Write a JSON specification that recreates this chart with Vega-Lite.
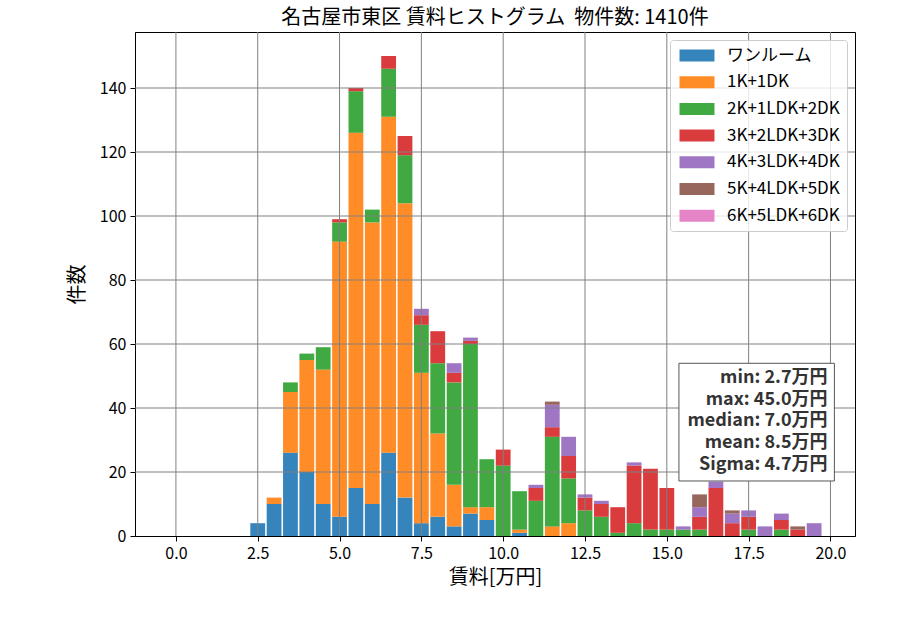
{
  "$schema": "https://vega.github.io/schema/vega-lite/v6.json",
  "width": 720,
  "height": 504,
  "autosize": {"type": "none"},
  "padding": {"left": 135, "top": 32, "right": 45, "bottom": 94},
  "background": "white",
  "title": {"text": "名古屋市東区 賃料ヒストグラム \u00a0物件数: 1410件", "fontSize": 20, "fontWeight": "normal", "color": "black", "offset": 4, "anchor": "middle"},
  "config": {
    "font": "Noto Sans CJK JP",
    "view": {"stroke": "black", "strokeWidth": 1},
    "axis": {"labelFontSize": 16, "labelColor": "black", "tickColor": "black", "domainColor": "black", "tickSize": 5, "titleFontSize": 20, "titleFontWeight": "normal", "titleColor": "black", "grid": false, "labelPadding": 4}
  },
  "layer": [
    {
      "data": {"values": [
        {"x": 2.5, "t": "ワンルーム", "k": 0, "n": 4},
        {"x": 3.0, "t": "ワンルーム", "k": 0, "n": 10}, {"x": 3.0, "t": "1K+1DK", "k": 1, "n": 2},
        {"x": 3.5, "t": "ワンルーム", "k": 0, "n": 26}, {"x": 3.5, "t": "1K+1DK", "k": 1, "n": 19}, {"x": 3.5, "t": "2K+1LDK+2DK", "k": 2, "n": 3},
        {"x": 4.0, "t": "ワンルーム", "k": 0, "n": 20}, {"x": 4.0, "t": "1K+1DK", "k": 1, "n": 35}, {"x": 4.0, "t": "2K+1LDK+2DK", "k": 2, "n": 2},
        {"x": 4.5, "t": "ワンルーム", "k": 0, "n": 10}, {"x": 4.5, "t": "1K+1DK", "k": 1, "n": 42}, {"x": 4.5, "t": "2K+1LDK+2DK", "k": 2, "n": 7},
        {"x": 5.0, "t": "ワンルーム", "k": 0, "n": 6}, {"x": 5.0, "t": "1K+1DK", "k": 1, "n": 86}, {"x": 5.0, "t": "2K+1LDK+2DK", "k": 2, "n": 6}, {"x": 5.0, "t": "3K+2LDK+3DK", "k": 3, "n": 1},
        {"x": 5.5, "t": "ワンルーム", "k": 0, "n": 15}, {"x": 5.5, "t": "1K+1DK", "k": 1, "n": 111}, {"x": 5.5, "t": "2K+1LDK+2DK", "k": 2, "n": 13}, {"x": 5.5, "t": "3K+2LDK+3DK", "k": 3, "n": 1},
        {"x": 6.0, "t": "ワンルーム", "k": 0, "n": 10}, {"x": 6.0, "t": "1K+1DK", "k": 1, "n": 88}, {"x": 6.0, "t": "2K+1LDK+2DK", "k": 2, "n": 4},
        {"x": 6.5, "t": "ワンルーム", "k": 0, "n": 26}, {"x": 6.5, "t": "1K+1DK", "k": 1, "n": 105}, {"x": 6.5, "t": "2K+1LDK+2DK", "k": 2, "n": 15}, {"x": 6.5, "t": "3K+2LDK+3DK", "k": 3, "n": 4},
        {"x": 7.0, "t": "ワンルーム", "k": 0, "n": 12}, {"x": 7.0, "t": "1K+1DK", "k": 1, "n": 92}, {"x": 7.0, "t": "2K+1LDK+2DK", "k": 2, "n": 15}, {"x": 7.0, "t": "3K+2LDK+3DK", "k": 3, "n": 6},
        {"x": 7.5, "t": "ワンルーム", "k": 0, "n": 4}, {"x": 7.5, "t": "1K+1DK", "k": 1, "n": 47}, {"x": 7.5, "t": "2K+1LDK+2DK", "k": 2, "n": 15}, {"x": 7.5, "t": "3K+2LDK+3DK", "k": 3, "n": 3}, {"x": 7.5, "t": "4K+3LDK+4DK", "k": 4, "n": 2},
        {"x": 8.0, "t": "ワンルーム", "k": 0, "n": 6}, {"x": 8.0, "t": "1K+1DK", "k": 1, "n": 26}, {"x": 8.0, "t": "2K+1LDK+2DK", "k": 2, "n": 22}, {"x": 8.0, "t": "3K+2LDK+3DK", "k": 3, "n": 10},
        {"x": 8.5, "t": "ワンルーム", "k": 0, "n": 3}, {"x": 8.5, "t": "1K+1DK", "k": 1, "n": 13}, {"x": 8.5, "t": "2K+1LDK+2DK", "k": 2, "n": 32}, {"x": 8.5, "t": "3K+2LDK+3DK", "k": 3, "n": 3}, {"x": 8.5, "t": "4K+3LDK+4DK", "k": 4, "n": 3},
        {"x": 9.0, "t": "ワンルーム", "k": 0, "n": 7}, {"x": 9.0, "t": "1K+1DK", "k": 1, "n": 2}, {"x": 9.0, "t": "2K+1LDK+2DK", "k": 2, "n": 51}, {"x": 9.0, "t": "3K+2LDK+3DK", "k": 3, "n": 1}, {"x": 9.0, "t": "4K+3LDK+4DK", "k": 4, "n": 1},
        {"x": 9.5, "t": "ワンルーム", "k": 0, "n": 5}, {"x": 9.5, "t": "1K+1DK", "k": 1, "n": 4}, {"x": 9.5, "t": "2K+1LDK+2DK", "k": 2, "n": 15},
        {"x": 10.0, "t": "2K+1LDK+2DK", "k": 2, "n": 22}, {"x": 10.0, "t": "3K+2LDK+3DK", "k": 3, "n": 5},
        {"x": 10.5, "t": "ワンルーム", "k": 0, "n": 1}, {"x": 10.5, "t": "1K+1DK", "k": 1, "n": 1}, {"x": 10.5, "t": "2K+1LDK+2DK", "k": 2, "n": 12},
        {"x": 11.0, "t": "2K+1LDK+2DK", "k": 2, "n": 11}, {"x": 11.0, "t": "3K+2LDK+3DK", "k": 3, "n": 4}, {"x": 11.0, "t": "4K+3LDK+4DK", "k": 4, "n": 1},
        {"x": 11.5, "t": "1K+1DK", "k": 1, "n": 3}, {"x": 11.5, "t": "2K+1LDK+2DK", "k": 2, "n": 28}, {"x": 11.5, "t": "3K+2LDK+3DK", "k": 3, "n": 3}, {"x": 11.5, "t": "4K+3LDK+4DK", "k": 4, "n": 7}, {"x": 11.5, "t": "5K+4LDK+5DK", "k": 5, "n": 1},
        {"x": 12.0, "t": "1K+1DK", "k": 1, "n": 4}, {"x": 12.0, "t": "2K+1LDK+2DK", "k": 2, "n": 14}, {"x": 12.0, "t": "3K+2LDK+3DK", "k": 3, "n": 7}, {"x": 12.0, "t": "4K+3LDK+4DK", "k": 4, "n": 6},
        {"x": 12.5, "t": "2K+1LDK+2DK", "k": 2, "n": 8}, {"x": 12.5, "t": "3K+2LDK+3DK", "k": 3, "n": 4}, {"x": 12.5, "t": "4K+3LDK+4DK", "k": 4, "n": 1},
        {"x": 13.0, "t": "2K+1LDK+2DK", "k": 2, "n": 6}, {"x": 13.0, "t": "3K+2LDK+3DK", "k": 3, "n": 4}, {"x": 13.0, "t": "4K+3LDK+4DK", "k": 4, "n": 1},
        {"x": 13.5, "t": "2K+1LDK+2DK", "k": 2, "n": 1}, {"x": 13.5, "t": "3K+2LDK+3DK", "k": 3, "n": 8},
        {"x": 14.0, "t": "2K+1LDK+2DK", "k": 2, "n": 4}, {"x": 14.0, "t": "3K+2LDK+3DK", "k": 3, "n": 18}, {"x": 14.0, "t": "4K+3LDK+4DK", "k": 4, "n": 1},
        {"x": 14.5, "t": "2K+1LDK+2DK", "k": 2, "n": 2}, {"x": 14.5, "t": "3K+2LDK+3DK", "k": 3, "n": 19},
        {"x": 15.0, "t": "2K+1LDK+2DK", "k": 2, "n": 2}, {"x": 15.0, "t": "3K+2LDK+3DK", "k": 3, "n": 13},
        {"x": 15.5, "t": "2K+1LDK+2DK", "k": 2, "n": 2}, {"x": 15.5, "t": "4K+3LDK+4DK", "k": 4, "n": 1},
        {"x": 16.0, "t": "2K+1LDK+2DK", "k": 2, "n": 2}, {"x": 16.0, "t": "3K+2LDK+3DK", "k": 3, "n": 4}, {"x": 16.0, "t": "4K+3LDK+4DK", "k": 4, "n": 3}, {"x": 16.0, "t": "5K+4LDK+5DK", "k": 5, "n": 4},
        {"x": 16.5, "t": "3K+2LDK+3DK", "k": 3, "n": 15}, {"x": 16.5, "t": "4K+3LDK+4DK", "k": 4, "n": 2},
        {"x": 17.0, "t": "3K+2LDK+3DK", "k": 3, "n": 4}, {"x": 17.0, "t": "4K+3LDK+4DK", "k": 4, "n": 3}, {"x": 17.0, "t": "5K+4LDK+5DK", "k": 5, "n": 1},
        {"x": 17.5, "t": "2K+1LDK+2DK", "k": 2, "n": 2}, {"x": 17.5, "t": "3K+2LDK+3DK", "k": 3, "n": 4}, {"x": 17.5, "t": "4K+3LDK+4DK", "k": 4, "n": 2},
        {"x": 18.0, "t": "4K+3LDK+4DK", "k": 4, "n": 3},
        {"x": 18.5, "t": "2K+1LDK+2DK", "k": 2, "n": 2}, {"x": 18.5, "t": "3K+2LDK+3DK", "k": 3, "n": 3}, {"x": 18.5, "t": "4K+3LDK+4DK", "k": 4, "n": 2},
        {"x": 19.0, "t": "3K+2LDK+3DK", "k": 3, "n": 2}, {"x": 19.0, "t": "5K+4LDK+5DK", "k": 5, "n": 1},
        {"x": 19.5, "t": "4K+3LDK+4DK", "k": 4, "n": 4}
      ]},
      "mark": {"type": "bar", "orient": "vertical", "size": 14.8, "opacity": 0.9},
      "encoding": {
        "x": {"field": "x", "type": "quantitative", "title": "賃料[万円]",
              "scale": {"domain": [-1.25, 20.75], "nice": false, "zero": false, "padding": 0},
              "axis": {"values": [0, 2.5, 5, 7.5, 10, 12.5, 15, 17.5, 20], "format": ".1f", "titlePadding": 6}},
        "y": {"field": "n", "type": "quantitative", "stack": "zero", "title": "件数",
              "scale": {"domain": [0, 157.5], "nice": false, "padding": 0},
              "axis": {"values": [0, 20, 40, 60, 80, 100, 120, 140], "format": "d", "titlePadding": 12}},
        "color": {"field": "t", "type": "nominal",
                  "scale": {"domain": ["ワンルーム", "1K+1DK", "2K+1LDK+2DK", "3K+2LDK+3DK", "4K+3LDK+4DK", "5K+4LDK+5DK", "6K+5LDK+6DK"],
                            "range": ["#1f77b4", "#ff7f0e", "#2ca02c", "#d62728", "#9467bd", "#8c564b", "#e377c2"]},
                  "legend": {"title": null, "orient": "top-right", "offset": 8, "symbolType": "M-1,-1H4.83V1H-1Z", "symbolSize": 144,
                             "symbolStrokeWidth": 0, "symbolOpacity": 0.9, "labelFontSize": 17, "labelColor": "black", "labelOffset": 33,
                             "fillColor": "rgba(255,255,255,0.8)", "strokeColor": "#cccccc", "cornerRadius": 3, "padding": 7, "rowPadding": 8.7}},
        "order": {"field": "k", "type": "quantitative", "sort": "ascending"}
      }
    },
    {
      "data": {"values": [{"x": 0}, {"x": 2.5}, {"x": 5}, {"x": 7.5}, {"x": 10}, {"x": 12.5}, {"x": 15}, {"x": 17.5}, {"x": 20}]},
      "mark": {"type": "rule", "color": "#808080", "strokeWidth": 1},
      "encoding": {"x": {"field": "x", "type": "quantitative", "title": "賃料[万円]"}}
    },
    {
      "data": {"values": [{"n": 20}, {"n": 40}, {"n": 60}, {"n": 80}, {"n": 100}, {"n": 120}, {"n": 140}]},
      "mark": {"type": "rule", "color": "#808080", "strokeWidth": 1},
      "encoding": {"y": {"field": "n", "type": "quantitative", "title": "件数"}}
    },
    {
      "data": {"values": [{"x": 15.37, "xe": 20.12, "n": 53.97, "ne": 17.19}]},
      "mark": {"type": "rect", "fill": "white", "stroke": "#555555", "strokeWidth": 1},
      "encoding": {
        "x": {"field": "x", "type": "quantitative", "title": "賃料[万円]"},
        "x2": {"field": "xe"},
        "y": {"field": "n", "type": "quantitative", "title": "件数"},
        "y2": {"field": "ne"}
      }
    },
    {
      "data": {"values": [
        {"x": 19.91, "n": 49.4, "s": "min: 2.7万円"},
        {"x": 19.91, "n": 42.6, "s": "max: 45.0万円"},
        {"x": 19.91, "n": 35.8, "s": "median: 7.0万円"},
        {"x": 19.91, "n": 29.1, "s": "mean: 8.5万円"},
        {"x": 19.91, "n": 22.3, "s": "Sigma: 4.7万円"}
      ]},
      "mark": {"type": "text", "align": "right", "baseline": "middle", "fontSize": 18, "fontWeight": "bold", "color": "#333333"},
      "encoding": {
        "x": {"field": "x", "type": "quantitative", "title": "賃料[万円]"},
        "y": {"field": "n", "type": "quantitative", "title": "件数"},
        "text": {"field": "s"}
      }
    }
  ]
}
